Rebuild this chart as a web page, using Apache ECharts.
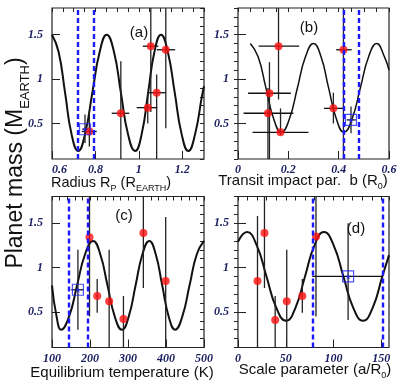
<!DOCTYPE html>
<html><head><meta charset="utf-8">
<script src="https://cdn.jsdelivr.net/npm/echarts@6/dist/echarts.min.js"></script>
<style>html,body{margin:0;padding:0;background:#fff}#c{width:408px;height:391px}</style>
</head><body><div id="c"></div>
<script>
// ---------- data ----------
// fitted curves [x, mass]
const curveA = [[0.600,1.50],[0.630,1.31],[0.660,0.85],[0.690,0.38],[0.721,0.19],[0.752,0.38],[0.786,0.85],[0.820,1.31],[0.852,1.50],[0.885,1.31],[0.917,0.85],[0.950,0.38],[0.983,0.19],[1.013,0.38],[1.043,0.85],[1.072,1.31],[1.102,1.50],[1.133,1.31],[1.165,0.85],[1.197,0.38],[1.228,0.19],[1.259,0.38],[1.290,0.80],[1.300,0.92]];
const curveB = [[0.049,1.40],[0.080,1.25],[0.111,0.90],[0.142,0.55],[0.172,0.40],[0.204,0.55],[0.236,0.90],[0.268,1.25],[0.300,1.40],[0.330,1.25],[0.360,0.90],[0.391,0.55],[0.421,0.40],[0.453,0.55],[0.486,0.90],[0.519,1.25],[0.551,1.40],[0.582,1.25],[0.600,1.10]];
const curveC = [[100,0.80],[112,0.45],[124,0.30],[145,0.45],[166,0.80],[187,1.15],[208,1.30],[227,1.15],[246,0.80],[265,0.45],[284,0.30],[302,0.45],[320,0.80],[338,1.15],[356,1.30],[373,1.15],[390,0.80],[407,0.45],[424,0.30],[443,0.45],[462,0.80],[481,1.15],[500,1.30]];
const curveD = [[0,1.29],[9.4,1.40],[19.6,1.25],[29.8,0.90],[40.0,0.55],[50.3,0.40],[60.2,0.55],[70.1,0.90],[80.0,1.25],[89.9,1.40],[100.1,1.25],[110.3,0.90],[120.5,0.55],[130.8,0.40],[141,0.55],[151,0.90],[158,1.14]];
// planets [x, mass, xLow, xHigh, massLow, massHigh]
const planetsA = [[0.917,0.615,0.875,0.956,0.0,1.20],[1.041,0.678,0.990,1.085,0.50,0.85],[1.082,0.846,1.044,1.124,0.0,1.05],[1.055,1.37,1.018,1.090,0.63,2.0],[1.124,1.33,1.082,1.167,0.446,2.0],[0.772,0.41,0.737,0.806,0.24,0.65]];
const planetsB = [[0.161,1.37,0.082,0.243,0.77,2.0],[0.125,0.84,0.040,0.210,0.0,1.19],[0.119,0.615,0.022,0.220,0.0,0.90],[0.169,0.40,0.058,0.280,0.37,0.67],[0.379,0.67,0.342,0.423,0.50,0.846],[0.419,1.33,0.390,0.452,0.0,2.0]];
const planetsC = [[198.7,1.34,198.7,198.7,0.45,2.0],[218.9,0.68,218.9,218.9,0.49,0.87],[250.4,0.62,250.4,250.4,0.0,1.2],[288,0.42,288,288,0.0,0.68],[340.4,1.39,340.4,340.4,0.77,2.0],[399.2,0.85,399.2,399.2,0.0,1.57]];
const planetsD = [[20.4,0.85,20.4,20.4,0.0,1.58],[27.7,1.39,27.7,27.7,0.77,2.0],[38.9,0.41,38.9,38.9,0.0,0.68],[51,0.62,51,51,0.0,1.2],[67.3,0.68,67.3,67.3,0.49,0.87],[81.6,1.35,81.6,81.6,0.45,2.0]];
// predicted planet (blue square) [x, mass, xLow, xHigh, massLow, massHigh]
const predA = [0.752,0.435,0.740,0.765,0.28,0.60];
const predB = [0.449,0.54,0.432,0.468,0.39,0.69];
const predC = [168.2,0.75,150.7,183,0.30,1.20];
const predD = [115.2,0.90,77.7,151.7,0.41,1.50];
// allowed ranges (blue dashed)
const bandA = [0.721,0.786];
const bandB = [0.421,0.476];
const bandC = [143.6,193.5];
const bandD = [77.7,151.7];
// axes
const xRangeA = [0.6,1.3], xRangeB = [0,0.6], xRangeC = [100,500], xRangeD = [0,158];
const xMajor = [0.2,0.2,100,50];
const xMinor = [0.05,0.05,20,10];
const showMaxX = [false,true,true,false];
const yRange = [0.1,1.8];
const yTickLabels = [0.5,1,1.5];
const panelLetters = ['(a)','(b)','(c)','(d)'];

// ---------- chart ----------
const chart = echarts.init(document.getElementById('c'), null, {renderer:'canvas'});
const labFont = {fontFamily:'Liberation Serif', fontStyle:'italic', fontWeight:'bold', fontSize:12, color:'#1c2060'};
const titleFont = 'Liberation Sans';
const grids = [
  {left:52, top:8, width:152, height:151},
  {left:238, top:8, width:151, height:151},
  {left:52, top:196.5, width:152, height:151},
  {left:238, top:196.5, width:151, height:151}
];
const xRanges = [xRangeA,xRangeB,xRangeC,xRangeD];
const curves = [curveA,curveB,curveC,curveD];
const planets = [planetsA,planetsB,planetsC,planetsD];
const preds = [predA,predB,predC,predD];
const bands = [bandA,bandB,bandC,bandD];
const curveWidths = [2,1.5,2,2];

const option = {animation:false, grid:[], xAxis:[], yAxis:[], series:[], graphic:[]};
const star = 'path://M50,0 L61,35 L98,35 L68,57 L79,91 L50,70 L21,91 L32,57 L2,35 L39,35 Z';

function errRender(params, api){
  const cs = params.coordSys;
  const clampY = v => Math.max(cs.y, Math.min(cs.y+cs.height, v));
  const clampX = v => Math.max(cs.x, Math.min(cs.x+cs.width, v));
  const x=api.value(0), y=api.value(1), xl=api.value(2), xh=api.value(3), yl=api.value(4), yh=api.value(5);
  const ch=[];
  if (xh>xl){
    const a=api.coord([xl,y]), b=api.coord([xh,y]);
    ch.push({type:'line', shape:{x1:clampX(a[0]),y1:a[1],x2:clampX(b[0]),y2:b[1]}, style:{stroke:'#111', lineWidth:1.3}});
  }
  const c=api.coord([x,yl]), d=api.coord([x,yh]);
  ch.push({type:'line', shape:{x1:c[0],y1:clampY(c[1]),x2:d[0],y2:clampY(d[1])}, style:{stroke:'#222', lineWidth:1.3}});
  return {type:'group', children:ch};
}

for (let g=0; g<4; g++){
  option.grid.push(Object.assign({show:true, borderColor:'#222', borderWidth:1.2, backgroundColor:'transparent'}, grids[g]));
  const xr = xRanges[g];
  option.xAxis.push({type:'value', gridIndex:g, min:xr[0], max:xr[1], interval:xMajor[g],
    axisLine:{show:false}, splitLine:{show:false},
    axisTick:{show:true, inside:true, length:8, lineStyle:{color:'#222', width:1}},
    axisLabel:Object.assign({margin:5, showMaxLabel:showMaxX[g], alignMinLabel: g===0 ? 'left' : 'center'}, labFont)});
  option.xAxis.push({type:'value', gridIndex:g, min:xr[0], max:xr[1], interval:xMinor[g],
    axisLine:{show:false}, splitLine:{show:false}, axisLabel:{show:false},
    axisTick:{show:true, inside:true, length:4, lineStyle:{color:'#222', width:1}}});
  option.yAxis.push({type:'value', gridIndex:g, min:yRange[0], max:yRange[1], interval:0.1,
    axisLine:{show:false}, splitLine:{show:false},
    axisTick:{show:true, inside:true, length:8, customValues:yTickLabels, lineStyle:{color:'#222', width:1}},
    axisLabel:Object.assign({margin:9, customValues:yTickLabels}, labFont)});
  option.yAxis.push({type:'value', gridIndex:g, min:yRange[0], max:yRange[1], interval:0.1,
    axisLine:{show:false}, splitLine:{show:false}, axisLabel:{show:false},
    axisTick:{show:true, inside:true, length:4, lineStyle:{color:'#222', width:1}}});
  const xi=2*g, yi=2*g;
  option.series.push({type:'line', xAxisIndex:xi, yAxisIndex:yi, data:curves[g], smooth:0.5, showSymbol:false, symbol:'none',
    lineStyle:{color:'#111', width:curveWidths[g]}, clip:true, z:2,
    markLine:{silent:true, symbol:'none', label:{show:false},
      lineStyle:{color:'#1a1aff', type:[5,3], width:2.4},
      data:bands[g].map(v=>({xAxis:v}))}});
  option.series.push({type:'custom', xAxisIndex:xi, yAxisIndex:yi, data:planets[g].concat([preds[g]]), renderItem:errRender, z:3});
  option.series.push({type:'scatter', xAxisIndex:xi, yAxisIndex:yi, data:planets[g].map(p=>[p[0],p[1]]), symbol:'circle', symbolSize:8,
    itemStyle:{color:'#ff1010'}, z:4});
  option.series.push({type:'scatter', xAxisIndex:xi, yAxisIndex:yi, data:[[preds[g][0],preds[g][1]]], symbol:'rect', symbolSize:11,
    itemStyle:{color:'rgba(0,0,0,0)', borderColor:'#2222ff', borderWidth:1.2}, z:5});
  option.series.push({type:'scatter', xAxisIndex:xi, yAxisIndex:yi, data:[[preds[g][0],preds[g][1]]], symbol:star, symbolSize:6,
    itemStyle:{color:'#2222ff'}, z:5});
}

const rich = {s:{fontSize:9, fontFamily:titleFont, verticalAlign:'bottom', padding:[0,0,-3,0], fill:'#111'}};
function txt(x,y,text,size,extra){
  return Object.assign({type:'text', x:x, y:y, style:{text:text, fontFamily:titleFont, fontSize:size, fill:'#111', align:'center', verticalAlign:'middle', rich:rich}}, extra||{});
}
option.graphic = [
  txt(111,183,'Radius R{s|P} (R{s|EARTH})',14.5),
  txt(303,181,'Transit impact par.  b (R{s|0})',15),
  txt(122,373,'Equilibrium temperature (K)',15),
  txt(315,370,'Scale parameter (a/R{s|0})',15),
  txt(139,33,panelLetters[0],15),
  txt(309,28,panelLetters[1],15),
  txt(124,216,panelLetters[2],15),
  txt(356,229,panelLetters[3],15),
  Object.assign(txt(16,163,'Planet mass (M{s2|EARTH})',23), {rotation:Math.PI/2}),
];
option.graphic[8].style.rich = {s2:{fontSize:13, fontFamily:titleFont, verticalAlign:'bottom', padding:[0,0,-4,0], fill:'#111'}};
chart.setOption(option);
</script>
</body></html>
